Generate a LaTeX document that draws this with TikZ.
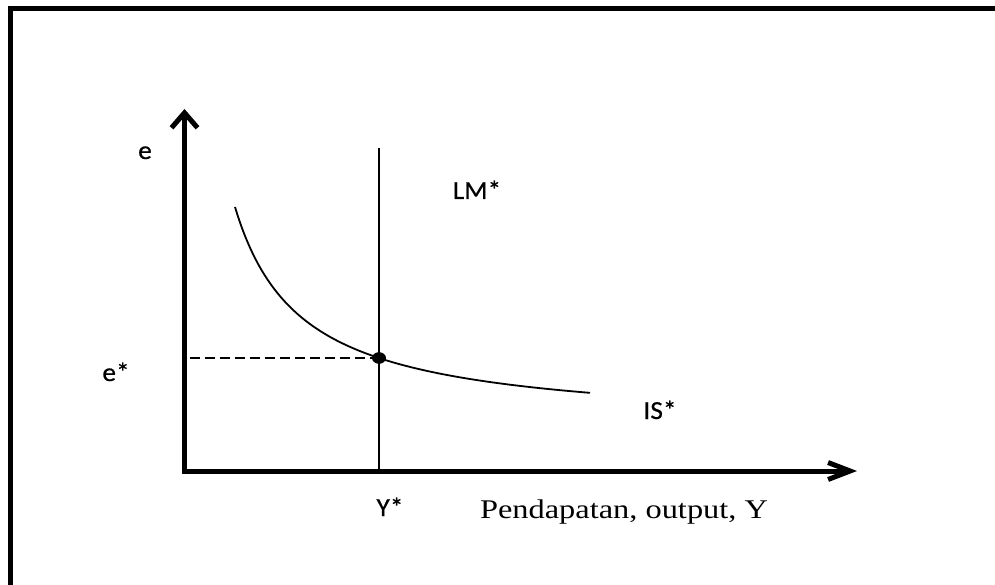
\documentclass[tikz,border=0pt]{standalone}
\usepackage{fontspec}
\setmainfont{Liberation Serif}[FakeStretch=1.2]
\newfontfamily\labfont{Carlito}[FakeStretch=1.05,FakeBold=0.6]
\usetikzlibrary{arrows.meta}
\begin{document}
\begin{tikzpicture}[x=1pt,y=-1pt,
  axis/.style={line width=5pt},
  thinline/.style={line width=1.8pt},
  lab/.style={anchor=base,inner sep=0pt,font=\labfont\fontsize{26}{30}\selectfont},
  serlab/.style={anchor=base,inner sep=0pt,font=\fontsize{27}{31}\selectfont}]
\useasboundingbox (0,0) rectangle (995,585);
% frame
\draw[line width=5pt] (10.5,585) -- (10.5,9) -- (995,9);
% coordinates
\coordinate (O) at (184.5,471);
\coordinate (ytip) at (184.5,109);
\coordinate (xtip) at (857,471);
\coordinate (lmtop) at (379,148);
\coordinate (lmbot) at (379,471);
\coordinate (E) at (379,358);
\coordinate (dstart) at (190,358);
% axes
\draw[axis,-{Straight Barb[length=15pt,width=26pt,line width=5pt]}] (O) -- (ytip);
\draw[axis,-{Straight Barb[length=22pt,width=17pt,line width=5pt]}] ([xshift=-2.5pt]O) -- (xtip);
% LM*
\draw[thinline] (lmbot) -- (lmtop);
% dashed
\draw[line width=1.5pt,dash pattern=on 10pt off 5pt] (dstart) -- (E);
% IS* curve
\draw[thinline] plot[domain=50:405,samples=120,smooth] ({185+\x},{427.56-14632/(\x+16.34)});
% equilibrium dot
\fill (E) ellipse [x radius=7pt,y radius=5.8pt];
% labels
\node[lab] (le) at (145,159) {e};
\node[lab] (lestar) at (116,381) {e*};
\node[lab] (llm) at (477,199) {LM*};
\node[lab] (lis) at (660,419) {IS*};
\node[lab] (lystar) at (390,516) {Y*};
\node[serlab] (lout) at (624,518) {Pendapatan, output, Y};
\end{tikzpicture}
\end{document}
